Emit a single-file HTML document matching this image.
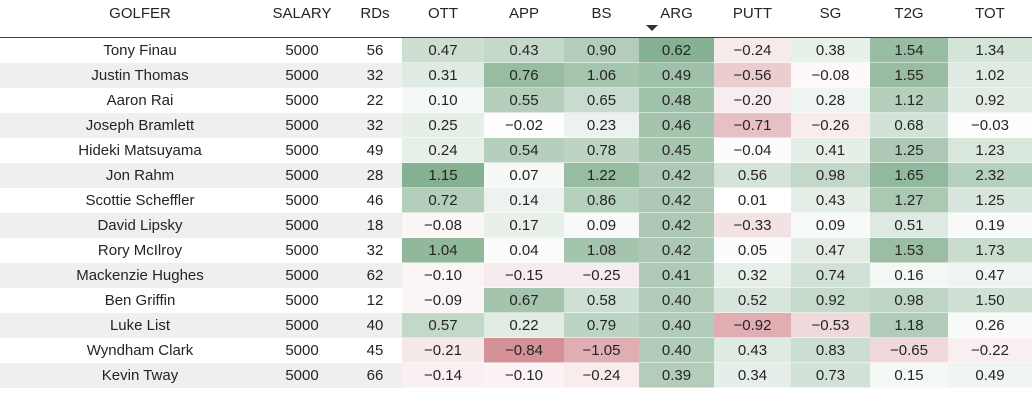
<!DOCTYPE html>
<html><head><meta charset="utf-8">
<style>
body{margin:0;width:1032px;height:406px;overflow:hidden;background:#fff;font-family:"Liberation Sans",sans-serif;color:#252423}
#t{position:relative;width:1032px;height:406px}
.c{position:absolute;height:25px;line-height:25px;text-align:center;font-size:15px}
.h{position:absolute;top:2px;height:24px;line-height:24px;text-align:center;font-size:15px;color:#252423}
#line{position:absolute;left:0;top:37px;width:1032px;height:2px;background:#444}
#arrow{position:absolute;left:646px;top:25px;width:0;height:0;border-left:6px solid transparent;border-right:6px solid transparent;border-top:6px solid #333}
</style></head><body>
<div id="t">
<div id="line"></div>
<div id="arrow"></div>
</div>
<script>
const golfers=["Tony Finau","Justin Thomas","Aaron Rai","Joseph Bramlett","Hideki Matsuyama","Jon Rahm","Scottie Scheffler","David Lipsky","Rory McIlroy","Mackenzie Hughes","Ben Griffin","Luke List","Wyndham Clark","Kevin Tway"];
const salary=[5000,5000,5000,5000,5000,5000,5000,5000,5000,5000,5000,5000,5000,5000];
const rds=[56,32,22,32,49,28,46,18,32,62,12,40,45,66];
const ott=[0.47,0.31,0.10,0.25,0.24,1.15,0.72,-0.08,1.04,-0.10,-0.09,0.57,-0.21,-0.14];
const app=[0.43,0.76,0.55,-0.02,0.54,0.07,0.14,0.17,0.04,-0.15,0.67,0.22,-0.84,-0.10];
const bs=[0.90,1.06,0.65,0.23,0.78,1.22,0.86,0.09,1.08,-0.25,0.58,0.79,-1.05,-0.24];
const arg=[0.62,0.49,0.48,0.46,0.45,0.42,0.42,0.42,0.42,0.41,0.40,0.40,0.40,0.39];
const putt=[-0.24,-0.56,-0.20,-0.71,-0.04,0.56,0.01,-0.33,0.05,0.32,0.52,-0.92,0.43,0.34];
const sg=[0.38,-0.08,0.28,-0.26,0.41,0.98,0.43,0.09,0.47,0.74,0.92,-0.53,0.83,0.73];
const t2g=[1.54,1.55,1.12,0.68,1.25,1.65,1.27,0.51,1.53,0.16,0.98,1.18,-0.65,0.15];
const tot=[1.34,1.02,0.92,-0.03,1.23,2.32,1.25,0.19,1.73,0.47,1.50,0.26,-0.22,0.49];
const heat=[["OTT",ott],["APP",app],["BS",bs],["ARG",arg],["PUTT",putt],["SG",sg],["T2G",t2g],["TOT",tot]];
const gmax=[1.0,0.85,0.85,1.0,0.35,0.5,0.9,0.6];
const rmax=[0.2,1.0,0.75,0.3,0.75,0.35,0.35,0.15];
const edges=[402,484,564,639,714,791,870,948,1032];
const T=document.getElementById('t');
function mk(cls,x,y,w,txt,bg){const d=document.createElement('div');d.className=cls;d.style.left=x+'px';d.style.top=y+'px';d.style.width=w+'px';d.textContent=txt;if(bg)d.style.background=bg;T.appendChild(d);return d;}
function mix(a,b,t){return 'rgb('+a.map((v,i)=>Math.round(v+(b[i]-v)*t)).join(',')+')';}
const W=[255,255,255],G=[134,176,146],R=[212,146,152];
let h;
h=mk('h',40,2,200,'GOLFER');


h=mk('h',262,2,80,'SALARY');


h=mk('h',345,2,60,'RDs');


heat.forEach((c,j)=>{
  h=mk('h',edges[j],2,edges[j+1]-edges[j],c[0]);
  
  
});
golfers.forEach((g,i)=>{
  const y=38+i*25;
  const rowBg=i%2?'#efefef':'#ffffff';
  let d=mk('c',0,y,402,'',rowBg);
  
  
  d=mk('c',40,y,200,g);
  
  
  d=mk('c',262,y,80,String(salary[i]));
  
  
  d=mk('c',345,y,60,String(rds[i]));
  
  
  heat.forEach((c,j)=>{
    const arr=c[1],v=arr[i];
    const mx=Math.max(...arr),mn=Math.min(...arr);
    let bg;
    if(v>=0)bg=mix(W,G,mx>0?gmax[j]*v/mx:0);else bg=mix(W,R,mn<0?rmax[j]*v/mn:0);
    const e=mk('c',edges[j],y,edges[j+1]-edges[j],v.toFixed(2).replace('-','\u2212'),bg);
    e.style.borderBottom='1px solid rgba(255,255,255,0.5)';
    e.style.boxSizing='border-box';
    
    
  });
});
</script>
</body></html>
